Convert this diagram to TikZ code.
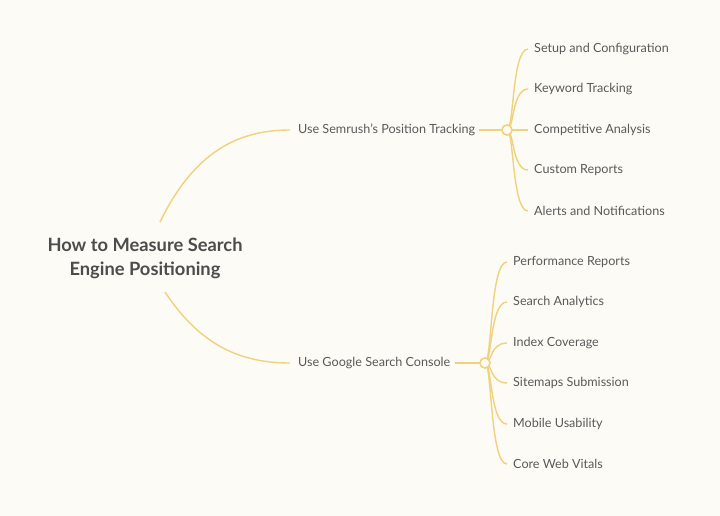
\documentclass[tikz,border=0pt]{standalone}
\usepackage{fontspec}
\setmainfont{Lato}
\begin{document}
\begin{tikzpicture}[x=1pt,y=-1pt,
  ln/.style={draw=lc,line width=1.4pt},
  leaf/.style={anchor=west,font=\fontsize{12.6}{14}\selectfont,text=tc,inner sep=0pt},
  br/.style={anchor=west,font=\fontsize{12.6}{14}\selectfont,text=tc,inner sep=0pt},
  hub/.style={circle,draw=lc,line width=1.4pt,fill=bg,minimum size=10pt,inner sep=0pt}]
\definecolor{bg}{HTML}{FDFBF5}
\definecolor{lc}{HTML}{F0D27C}
\definecolor{tc}{HTML}{5A5A5A}
\fill[bg] (0,0) rectangle (720,516);
\useasboundingbox (0,0) rectangle (720,516);
\node[align=center,font=\bfseries\fontsize{18.3}{24}\selectfont,text=tc!85!black] (root) at (145,258) {How to Measure Search\\Engine Positioning};
\node[br] (b1) at (298,130) {Use Semrush's Position Tracking};
\node[br] (b2) at (298,363) {Use Google Search Console};
\coordinate (r1) at (160,222);
\coordinate (r2) at (165,292);
\coordinate (e1) at (290,130);
\coordinate (e2) at (290,363);
\draw[ln] (r1) .. controls (195,150) and (240,130) .. (e1);
\draw[ln] (r2) .. controls (200,345) and (240,363) .. (e2);
\node[hub] (h1) at (507,130) {};
\node[hub] (h2) at (485,363) {};
\draw[ln] ([xshift=4pt]b1.east) -- (h1.west);
\draw[ln] ([xshift=4pt]b2.east) -- (h2.west);
\foreach \t/\y [count=\i] in {Setup and Configuration/49,Keyword Tracking/89,Competitive Analysis/130,Custom Reports/170,Alerts and Notifications/211}{
  \node[leaf] (a\i) at (534,\y) {\t};
  \draw[ln] (h1.center) .. controls (514,130) and (512,\y) .. ([xshift=-6pt]a\i.west);
}
\foreach \t/\y [count=\i] in {Performance Reports/262,Search Analytics/302,Index Coverage/343,Sitemaps Submission/383,Mobile Usability/424,Core Web Vitals/464}{
  \node[leaf] (c\i) at (513,\y) {\t};
  \draw[ln] (h2.center) .. controls (492,363) and (490,\y) .. ([xshift=-6pt]c\i.west);
}
\node[hub] at (507,130) {};
\node[hub] at (485,363) {};
\end{tikzpicture}
\end{document}
